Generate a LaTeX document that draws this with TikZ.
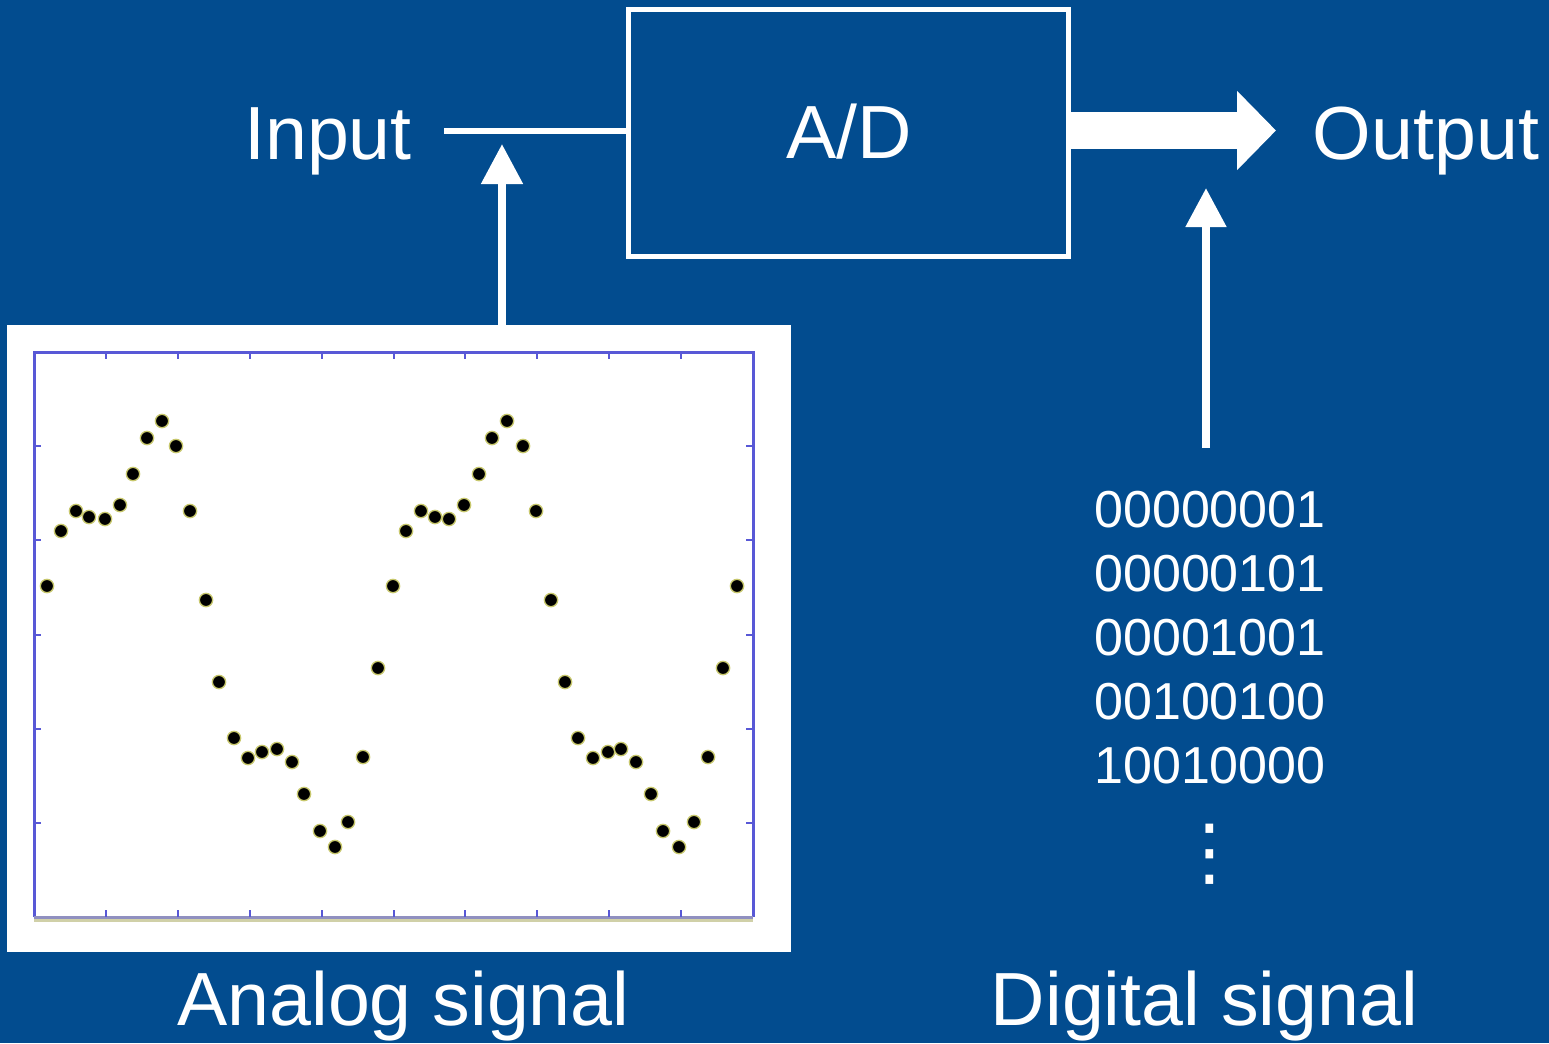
\documentclass[tikz,border=0pt]{standalone}
\usepackage{fontspec}
\setmainfont{Liberation Sans}
\newfontfamily\symfont{DejaVu Sans}
\usetikzlibrary{arrows.meta,fit}
\definecolor{bgblue}{RGB}{2,76,143}
\definecolor{framecol}{RGB}{88,88,214}
\definecolor{axiscol}{RGB}{144,144,192}
\definecolor{axisshade}{RGB}{208,208,168}
\definecolor{halo}{RGB}{200,200,110}
\begin{document}
\begin{tikzpicture}[x=0.75pt,y=-0.75pt,
  biglabel/.style={text=white,font=\fontsize{56.5pt}{60pt}\selectfont,inner sep=0pt,anchor=base},
  codetext/.style={text=white,font=\fontsize{39pt}{48pt}\selectfont,inner sep=0pt,anchor=base,align=center},
  wline/.style={draw=white,line width=4pt},
  warrow/.style={draw=white,line width=6pt,-{Triangle[length=30pt,width=30pt]}},
  fatarrow/.style={draw=white,line width=27.75pt,-{Triangle[length=29.25pt,width=57.75pt]}},
  framestyle/.style={draw=framecol,line width=2.25pt},
  tickstyle/.style={draw=framecol,line width=1.5pt},
  sample/.style={fill=black,draw=halo,line width=1pt}]
\useasboundingbox (0,0) rectangle (1549,1043);
\fill[bgblue] (0,0) rectangle (1549,1043);

% A/D block
\node[wline,inner sep=0pt,fit={(628.7,9.3)(1068.5,256.7)}] (adbox) {};
\node[biglabel] (adlabel) at (849,158) {A/D};

% Input / Output labels
\node[biglabel] (inlabel) at (328,159) {Input};
\node[biglabel] (outlabel) at (1426,159) {Output};

% input line
\coordinate (inl) at (444,131);
\draw[wline] (inl) -- (inl -| adbox.west);

% fat output arrow
\coordinate (outtip) at (1276,130.5);
\draw[fatarrow] (outtip -| adbox.east) -- (outtip);

% analog panel
\node[fill=white,inner sep=0pt,outer sep=0pt,fit={(7,325)(791,952)}] (panel) {};
\coordinate (intip) at (502,144);
\draw[warrow] (intip |- panel.north) -- (intip);

% plot frame
\draw[axisshade,line width=2.25pt] (34,920) -- (753,920);
\draw[framestyle] (34,917) -- (34,352) -- (753,352) -- (753,917);
\draw[axiscol,line width=2.25pt] (34,917) -- (753,917);
\foreach \k in {1,...,9}{
  \draw[tickstyle] ({34+71.9*\k},352) -- ({34+71.9*\k},359);
  \draw[tickstyle] ({34+71.9*\k},917) -- ({34+71.9*\k},910);
}
\foreach \k in {1,...,5}{
  \draw[tickstyle] (34,{352+94.17*\k}) -- (41,{352+94.17*\k});
  \draw[tickstyle] (753,{352+94.17*\k}) -- (746,{352+94.17*\k});
}
% samples
\foreach \px/\py in {47/586,61/531,76/511,89/517,105/519,120/505,133/474,147/438,162/421,176/446,190/511,206/600,219/682,234/738,248/758,262/752,277/749,292/762,304/794,320/831,335/847,348/822,363/757,378/668,393/586,406/531,421/511,435/517,449/519,464/505,479/474,492/438,507/421,523/446,536/511,551/600,565/682,578/738,593/758,608/752,621/749,636/762,651/794,663/831,679/847,694/822,708/757,723/668,737/586}{
  \filldraw[sample] (\px,\py) circle[radius=5pt];
}

% digital codes
\node[codetext] (codes) at (1210,783) {00000001\\00000101\\00001001\\00100100\\10010000};
\node[text=white,font=\symfont\fontsize{56pt}{60pt}\selectfont,inner sep=0pt,anchor=center] (vdots) at (1210,854) {⋮};

% digital arrow
\coordinate (dstart) at (1206,448);
\coordinate (dtip) at (1206,188);
\draw[draw=white,line width=6pt,-{Triangle[length=29.25pt,width=29.25pt]}] (dstart) -- (dtip);

% bottom captions
\node[biglabel] (analoglabel) at (403.5,1025) {Analog signal};
\node[biglabel] (digitallabel) at (1204.5,1025) {Digital signal};
\end{tikzpicture}
\end{document}
